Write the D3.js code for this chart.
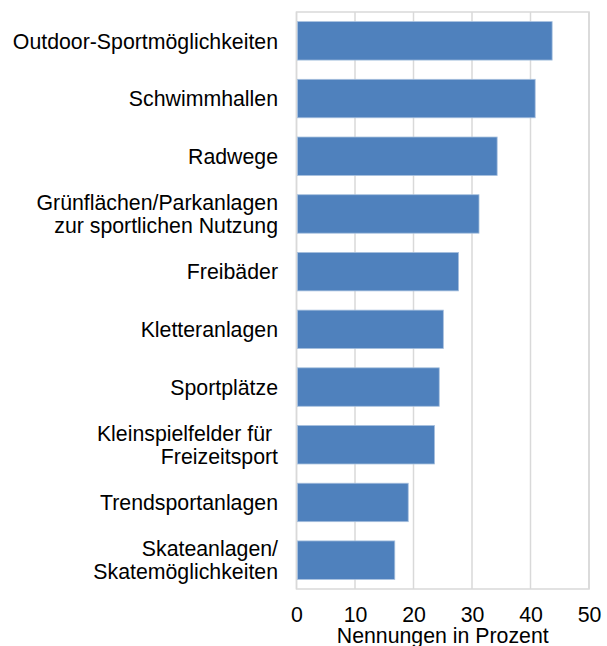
<!DOCTYPE html>
<html>
<head>
<meta charset="utf-8">
<script src="https://cdn.jsdelivr.net/npm/d3@7"></script>
<style>
  html, body { margin: 0; padding: 0; background: #fff; }
  svg { display: block; font-family: "Liberation Sans", Arial, sans-serif; }
</style>
</head>
<body>
<div id="chart"></div>
<script>
const categories = [
  ["Outdoor-Sportmöglichkeiten"],
  ["Schwimmhallen"],
  ["Radwege"],
  ["Grünflächen/Parkanlagen", "zur sportlichen Nutzung"],
  ["Freibäder"],
  ["Kletteranlagen"],
  ["Sportplätze"],
  ["Kleinspielfelder für ", "Freizeitsport"],
  ["Trendsportanlagen"],
  ["Skateanlagen/", "Skatemöglichkeiten"]
];
const values = [43.7, 40.8, 34.3, 31.2, 27.7, 25.1, 24.4, 23.6, 19.1, 16.8];
const xTicks = [0, 10, 20, 30, 40, 50];
const xTitle = "Nennungen in Prozent";

const width = 607, height = 646;
const margin = { top: 12, right: 18, bottom: 57, left: 296.5 };

const svg = d3.select("#chart").append("svg")
  .attr("width", width)
  .attr("height", height);

const x = d3.scaleLinear().domain([0, 50]).range([margin.left, width - margin.right]);
const y = d3.scaleBand()
  .domain(d3.range(categories.length))
  .range([margin.top, height - margin.bottom])
  .paddingInner(1 / 3)
  .paddingOuter(1 / 6);

// gridlines
svg.append("g").selectAll("line")
  .data(xTicks)
  .enter().append("line")
  .attr("x1", d => x(d)).attr("x2", d => x(d))
  .attr("y1", margin.top).attr("y2", height - margin.bottom)
  .attr("stroke", "#d9d9d9")
  .attr("stroke-width", 1.5);

// plot border
svg.append("rect")
  .attr("x", x(0)).attr("y", margin.top)
  .attr("width", x(50) - x(0))
  .attr("height", height - margin.bottom - margin.top)
  .attr("fill", "none")
  .attr("stroke", "#d9d9d9")
  .attr("stroke-width", 1.5);

// bars
svg.append("g").selectAll("rect")
  .data(values)
  .enter().append("rect")
  .attr("x", x(0) + 1)
  .attr("y", (d, i) => y(i))
  .attr("width", d => x(d) - x(0) - 1)
  .attr("height", y.bandwidth())
  .attr("fill", "#4f81bd")
  .attr("stroke", "#a7c0de")
  .attr("stroke-width", 0.8);

// category labels
const lineH = 23;
const labels = svg.append("g").selectAll("text")
  .data(categories)
  .enter().append("text")
  .attr("x", 278)
  .attr("text-anchor", "end")
  .attr("font-size", "21.3px")
  .attr("fill", "#000")
  .attr("y", (d, i) => y(i) + y.bandwidth() / 2 - (d.length - 1) * lineH / 2)
  .style("white-space", "pre");

labels.selectAll("tspan")
  .data(d => d)
  .enter().append("tspan")
  .attr("x", 278)
  .attr("dy", (d, i) => i === 0 ? "0.36em" : lineH)
  .text(d => d);

// x axis
const xAxis = svg.append("g")
  .attr("transform", `translate(0,${height - margin.bottom})`)
  .call(d3.axisBottom(x).tickValues(xTicks).tickSize(0).tickPadding(18));
xAxis.select(".domain").remove();
xAxis.selectAll("text")
  .attr("font-family", "Liberation Sans, Arial, sans-serif")
  .attr("font-size", "21.3px")
  .attr("fill", "#000");

svg.append("text")
  .attr("x", (x(0) + x(50)) / 2)
  .attr("y", 643)
  .attr("text-anchor", "middle")
  .attr("font-size", "21.3px")
  .attr("fill", "#000")
  .text(xTitle);
</script>
</body>
</html>
